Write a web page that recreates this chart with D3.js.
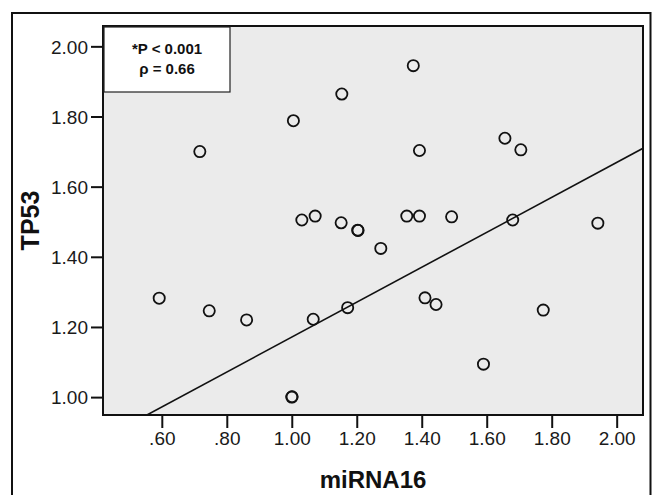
<!DOCTYPE html>
<html lang="en">
<head>
<meta charset="UTF-8">
<title>TP53 vs miRNA16</title>
<style>
  body { margin: 0; background: #fff; }
  svg { display: block; font-family: "Liberation Sans", Arial, sans-serif; }
</style>
</head>
<body>
<script src="https://cdnjs.cloudflare.com/ajax/libs/d3/7.8.5/d3.min.js"></script>
<script>
'use strict';
// values
const mirna16 = [0.592, 0.717, 0.746, 0.861, 1.000, 1.001, 1.005, 1.031, 1.072, 1.066,
  1.374, 1.154, 1.393, 1.656, 1.705, 1.152, 1.203, 1.204, 1.354, 1.393,
  1.492, 1.680, 1.942, 1.274, 1.172, 1.410, 1.444, 1.774, 1.590];
const tp53 = [1.282, 1.700, 1.246, 1.220, 1.000, 1.001, 1.788, 1.505, 1.516, 1.222,
  1.945, 1.864, 1.703, 1.738, 1.705, 1.497, 1.476, 1.475, 1.516, 1.516,
  1.514, 1.505, 1.496, 1.424, 1.255, 1.283, 1.264, 1.248, 1.094];

const xTicks = [0.6, 0.8, 1.0, 1.2, 1.4, 1.6, 1.8, 2.0];
const xTickLabels = ['.60', '.80', '1.00', '1.20', '1.40', '1.60', '1.80', '2.00'];
const yTicks = [1.0, 1.2, 1.4, 1.6, 1.8, 2.0];
const yTickLabels = ['1.00', '1.20', '1.40', '1.60', '1.80', '2.00'];

// fitted line  y = a + b*x
const fitA = 0.673;
const fitB = 0.498;
const legendLines = ['*P < 0.001', 'ρ = 0.66'];

const W = 655, H = 495;
const svg = d3.select('body').append('svg')
  .attr('width', W)
  .attr('height', H);

// outer frame (open at the bottom)
svg.append('path')
  .attr('d', 'M12,495 L12,13 L650.5,13 L650.5,495')
  .style('fill', 'none')
  .style('stroke', '#111')
  .style('stroke-width', 2);

const pL = 103, pR = 643, pT = 26, pB = 415;

const x = d3.scaleLinear()
  .domain([0.419, 2.081])
  .range([pL, pR]);
const y = d3.scaleLinear()
  .domain([0.949, 2.058])
  .range([pB, pT]);

// plot background
svg.append('rect')
  .attr('x', pL).attr('y', pT)
  .attr('width', pR - pL).attr('height', pB - pT)
  .style('fill', '#ebebeb');

svg.append('clipPath').attr('id', 'clip')
  .append('rect')
  .attr('x', pL).attr('y', pT)
  .attr('width', pR - pL).attr('height', pB - pT);

// regression line
const x0 = (y.domain()[0] - fitA) / fitB;
const x1 = x.domain()[1];
svg.append('line')
  .attr('clip-path', 'url(#clip)')
  .attr('x1', x(x0)).attr('y1', y(fitA + fitB * x0))
  .attr('x2', x(x1)).attr('y2', y(fitA + fitB * x1))
  .style('stroke', '#111')
  .style('stroke-width', 1.6);

// points
svg.append('g').selectAll('circle')
  .data(mirna16.map((d, i) => ({x: d, y: tp53[i]})))
  .enter()
  .append('circle')
    .attr('cx', d => x(d.x))
    .attr('cy', d => y(d.y))
    .attr('r', 5.6)
    .style('fill', 'none')
    .style('stroke', '#111')
    .style('stroke-width', 1.8);

// axes
const xAxis = svg.append('g')
  .attr('transform', `translate(0,${pB})`)
  .call(d3.axisBottom(x).tickValues(xTicks)
    .tickFormat((d, i) => xTickLabels[i]).tickSize(13).tickPadding(4));
const yAxis = svg.append('g')
  .attr('transform', `translate(${pL},0)`)
  .call(d3.axisLeft(y).tickValues(yTicks)
    .tickFormat((d, i) => yTickLabels[i]).tickSize(12).tickPadding(3));

[xAxis, yAxis].forEach(g => {
  g.select('.domain').remove();
  g.selectAll('line').style('stroke', '#111').style('stroke-width', 2);
  g.selectAll('text')
    .style('font-family', '"Liberation Sans", Arial, sans-serif')
    .style('font-size', '19px')
    .style('fill', '#1a1a1a');
});
yAxis.selectAll('text').attr('dy', '0.36em');

// plot border
svg.append('rect')
  .attr('x', pL).attr('y', pT)
  .attr('width', pR - pL).attr('height', pB - pT)
  .style('fill', 'none')
  .style('stroke', '#111')
  .style('stroke-width', 2);

// legend box
svg.append('rect')
  .attr('x', pL + 1).attr('y', pT + 1)
  .attr('width', 126).attr('height', 65)
  .style('fill', '#fff')
  .style('stroke', '#222')
  .style('stroke-width', 1.2);
svg.append('g').selectAll('text')
  .data(legendLines)
  .enter()
  .append('text')
    .attr('x', 167)
    .attr('y', (d, i) => 54 + i * 20)
    .attr('text-anchor', 'middle')
    .style('font-size', '15px')
    .style('font-weight', 'bold')
    .style('fill', '#111')
    .text(d => d);

// axis titles
svg.append('text')
  .attr('x', (pL + pR) / 2)
  .attr('y', 488)
  .attr('text-anchor', 'middle')
  .style('font-size', '24px')
  .style('font-weight', 'bold')
  .style('fill', '#111')
  .text('miRNA16');
svg.append('text')
  .attr('transform', `translate(39,${(pT + pB) / 2}) rotate(-90)`)
  .attr('text-anchor', 'middle')
  .style('font-size', '25px')
  .style('font-weight', 'bold')
  .style('fill', '#111')
  .text('TP53');
</script>
</body>
</html>
